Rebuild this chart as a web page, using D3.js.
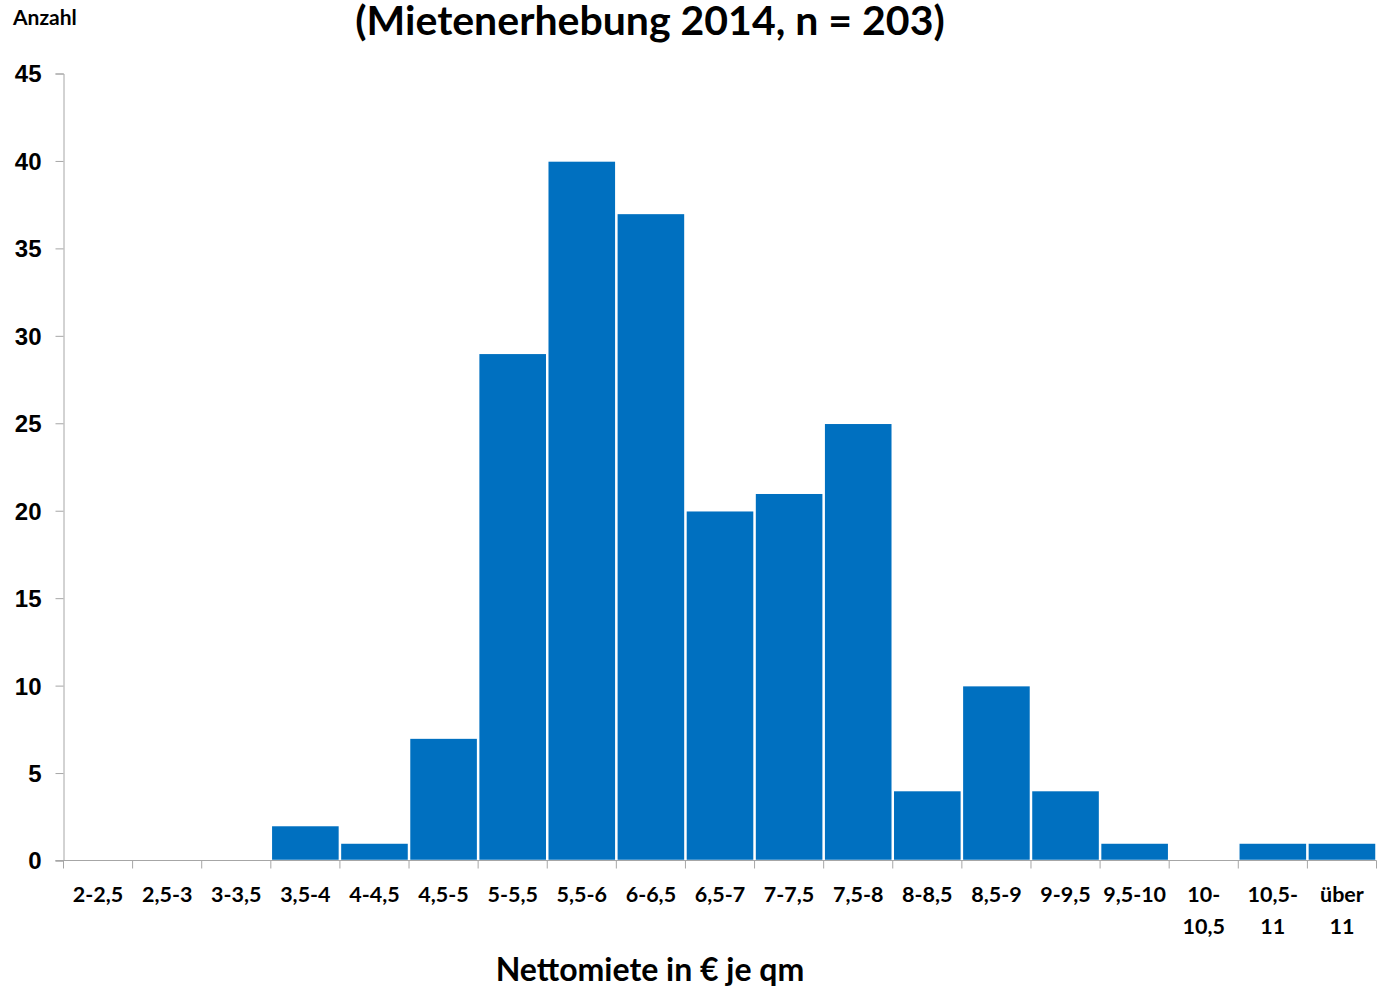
<!DOCTYPE html>
<html lang="de">
<head>
<meta charset="UTF-8">
<title>Mietenerhebung 2014</title>
<script src="https://d3js.org/d3.v7.min.js"></script>
<style>
  body { margin: 0; background: #fff; font-family: "Lato", "Open Sans", sans-serif; }
  svg text { font-weight: bold; fill: #000; }
</style>
</head>
<body>
<svg id="chart" width="1378" height="989"></svg>
<script>
// classes of net rent per sqm (label lines) and counts
const categories = [
  ["2-2,5"], ["2,5-3"], ["3-3,5"], ["3,5-4"], ["4-4,5"], ["4,5-5"], ["5-5,5"],
  ["5,5-6"], ["6-6,5"], ["6,5-7"], ["7-7,5"], ["7,5-8"], ["8-8,5"], ["8,5-9"],
  ["9-9,5"], ["9,5-10"], ["10-", "10,5"], ["10,5-", "11"], ["über", "11"]
];
const counts = [0, 0, 0, 2, 1, 7, 29, 40, 37, 20, 21, 25, 4, 10, 4, 1, 0, 1, 1];
const yTicks = [0, 5, 10, 15, 20, 25, 30, 35, 40, 45];

const svg = d3.select("#chart");
const plotLeft = 63.5, plotRight = 1376.5, plotTop = 73.5, plotBottom = 860.5;
const keys = categories.map(c => c.join(" "));

const x = d3.scaleBand().domain(keys).range([plotLeft, plotRight]).padding(0);
const y = d3.scaleLinear().domain([0, 45]).range([plotBottom, plotTop]);

// bars
svg.append("g").selectAll("rect")
  .data(counts)
  .join("rect")
  .attr("x", (d, i) => x(keys[i]) + 0.5)
  .attr("y", d => y(d))
  .attr("width", x.bandwidth() - 1)
  .attr("height", d => plotBottom - y(d))
  .attr("fill", "#0070c0")
  .attr("stroke", "#fff")
  .attr("stroke-width", 1.5)
  .style("display", d => d > 0 ? null : "none");

// y axis
const yAxis = svg.append("g")
  .attr("transform", `translate(${plotLeft},0)`)
  .call(d3.axisLeft(y).tickValues(yTicks).tickSize(8).tickPadding(14));
yAxis.select(".domain").attr("stroke", "#a6a6a6");
yAxis.selectAll(".tick line").attr("stroke", "#a6a6a6");
yAxis.selectAll(".tick text").style("font-size", "24px").attr("dy", "0.35em");

// x axis line + ticks at band edges
const xg = svg.append("g");
xg.append("line")
  .attr("x1", plotLeft - 8).attr("x2", plotRight)
  .attr("y1", plotBottom).attr("y2", plotBottom)
  .attr("stroke", "#a6a6a6");
const edges = keys.map(k => x(k)).concat([plotRight]);
xg.selectAll("line.t").data(edges).join("line")
  .attr("class", "t")
  .attr("x1", d => d).attr("x2", d => d)
  .attr("y1", plotBottom).attr("y2", plotBottom + 8)
  .attr("stroke", "#a6a6a6");

// category labels
const lab = svg.append("g").selectAll("text")
  .data(categories)
  .join("text")
  .attr("text-anchor", "middle")
  .style("font-size", "21.5px");
lab.each(function(lines, i) {
  const t = d3.select(this);
  lines.forEach((s, j) => {
    t.append("tspan")
      .attr("x", x(keys[i]) + x.bandwidth() / 2)
      .attr("y", 902 + j * 32)
      .text(s);
  });
});

// titles
svg.append("text")
  .attr("x", 650).attr("y", 35)
  .attr("text-anchor", "middle")
  .style("font-size", "41px")
  .text("(Mietenerhebung 2014, n = 203)");

svg.append("text")
  .attr("x", 13).attr("y", 25)
  .style("font-size", "21px")
  .text("Anzahl");

svg.append("text")
  .attr("x", 650).attr("y", 981)
  .attr("text-anchor", "middle")
  .style("font-size", "32px")
  .text("Nettomiete in € je qm");
</script>
</body>
</html>
